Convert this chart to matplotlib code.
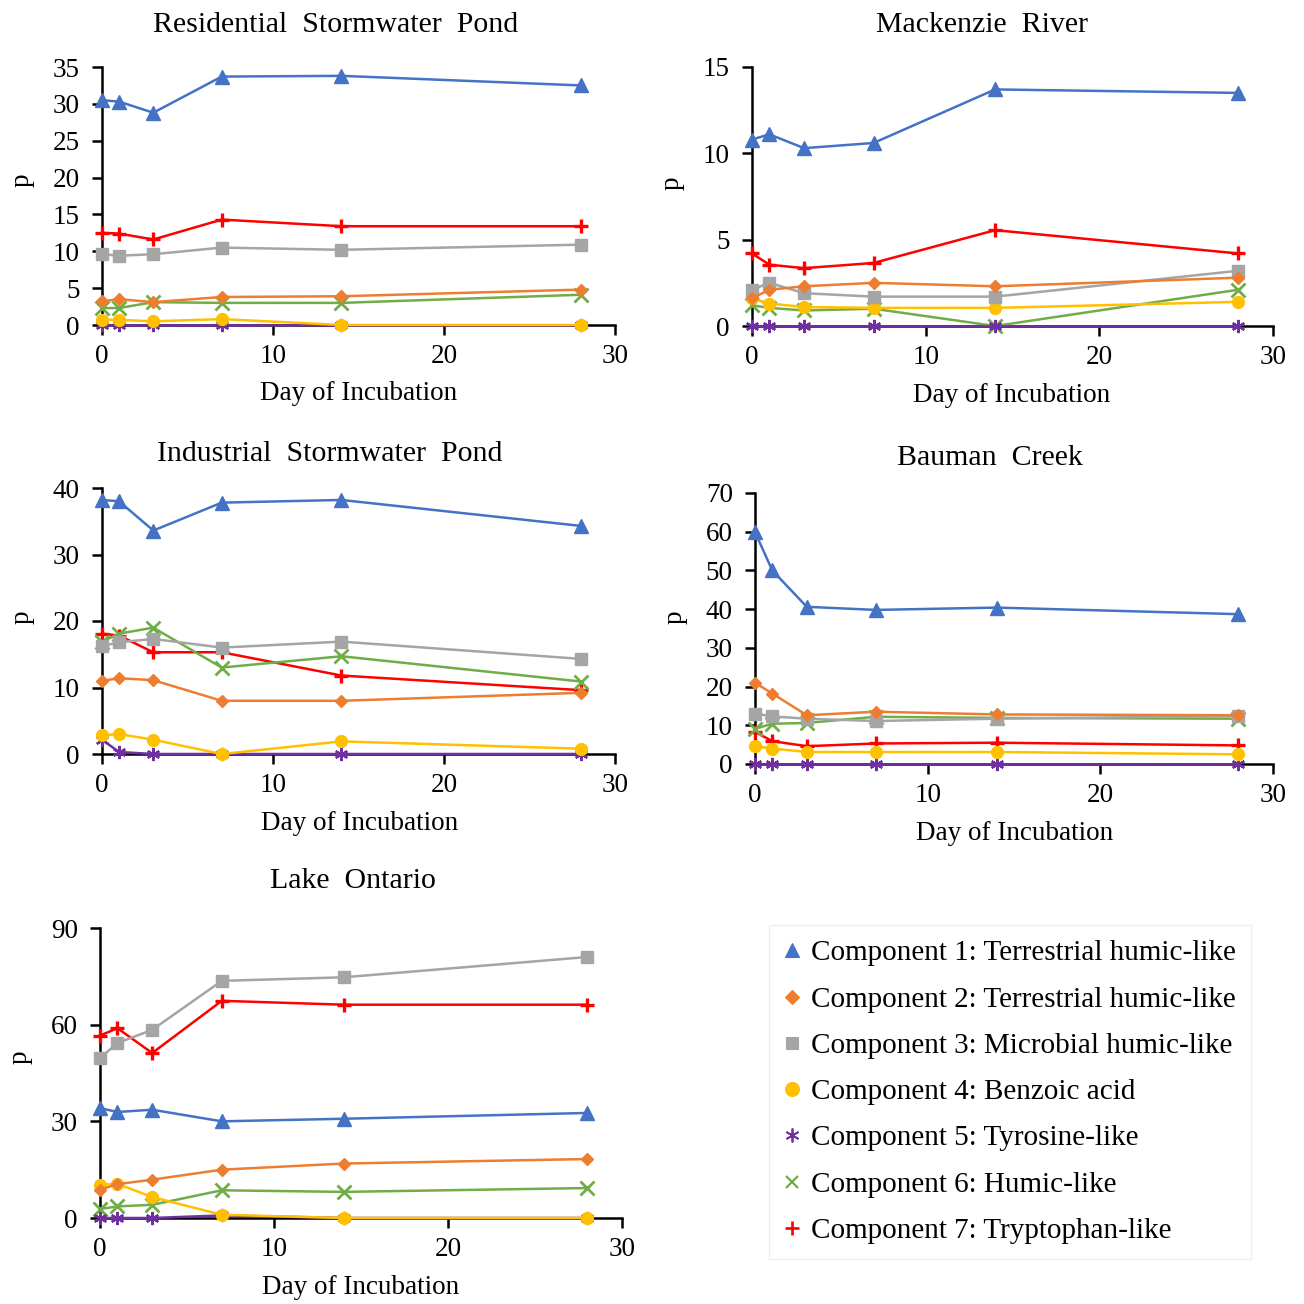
import matplotlib
matplotlib.use("Agg")
import matplotlib.pyplot as plt
from matplotlib.lines import Line2D

plt.rcParams['font.family'] = ['Liberation Serif', 'DejaVu Serif']

days = [0, 1, 3, 7, 14, 28]

component_labels = [
    "Component 1: Terrestrial humic-like",
    "Component 2: Terrestrial humic-like",
    "Component 3: Microbial humic-like",
    "Component 4: Benzoic acid",
    "Component 5: Tyrosine-like",
    "Component 6: Humic-like",
    "Component 7: Tryptophan-like",
]

# Residential Stormwater Pond
res_c1 = [30.5, 30.3, 28.8, 33.7, 33.8, 32.5]
res_c2 = [3.2, 3.5, 3.1, 3.8, 3.9, 4.8]
res_c3 = [9.6, 9.4, 9.6, 10.5, 10.2, 10.9]
res_c4 = [0.7, 0.7, 0.5, 0.8, 0.0, 0.0]
res_c5 = [0.0, 0.0, 0.0, 0.0, 0.0, 0.0]
res_c6 = [2.3, 2.3, 3.1, 3.0, 3.0, 4.1]
res_c7 = [12.5, 12.4, 11.6, 14.3, 13.4, 13.4]

# Mackenzie River
mac_c1 = [10.8, 11.1, 10.3, 10.6, 13.7, 13.5]
mac_c2 = [1.6, 2.1, 2.3, 2.5, 2.3, 2.8]
mac_c3 = [2.1, 2.5, 1.9, 1.7, 1.7, 3.2]
mac_c4 = [1.6, 1.3, 1.1, 1.05, 1.05, 1.4]
mac_c5 = [0.0, 0.0, 0.0, 0.0, 0.0, 0.0]
mac_c6 = [1.2, 1.05, 0.9, 1.0, 0.0, 2.1]
mac_c7 = [4.2, 3.55, 3.35, 3.65, 5.55, 4.2]

# Industrial Stormwater Pond
ind_c1 = [38.2, 38.0, 33.6, 37.8, 38.2, 34.3]
ind_c2 = [11.0, 11.4, 11.1, 8.0, 8.0, 9.2]
ind_c3 = [16.2, 16.8, 17.3, 16.0, 16.9, 14.3]
ind_c4 = [2.8, 3.0, 2.15, 0.0, 1.9, 0.8]
ind_c5 = [2.15, 0.3, 0.0, 0.0, 0.0, 0.0]
ind_c6 = [16.9, 18.1, 19.0, 13.0, 14.7, 10.9]
ind_c7 = [18.1, 17.8, 15.3, 15.3, 11.8, 9.6]

# Bauman Creek
bau_c1 = [59.9, 50.0, 40.6, 39.8, 40.4, 38.7]
bau_c2 = [21.0, 18.2, 12.6, 13.5, 12.8, 12.6]
bau_c3 = [13.0, 12.3, 11.7, 11.1, 11.7, 12.4]
bau_c4 = [4.6, 4.0, 3.1, 3.1, 3.1, 2.5]
bau_c5 = [0.0, 0.0, 0.0, 0.0, 0.0, 0.0]
bau_c6 = [9.1, 10.4, 10.6, 12.2, 11.9, 11.7]
bau_c7 = [8.3, 5.9, 4.6, 5.3, 5.5, 4.8]

# Lake Ontario
lak_c1 = [34.1, 32.9, 33.6, 30.0, 30.8, 32.6]
lak_c2 = [8.8, 10.5, 11.9, 15.0, 16.9, 18.3]
lak_c3 = [49.6, 54.3, 58.4, 73.6, 74.7, 81.0]
lak_c4 = [10.3, 10.6, 6.5, 1.0, 0.0, 0.0]
lak_c5 = [0.0, 0.0, 0.0, 0.8, 0.0, 0.0]
lak_c6 = [2.8, 3.6, 4.1, 8.6, 8.1, 9.3]
lak_c7 = [56.6, 58.9, 51.2, 67.4, 66.2, 66.2]

titles = ["Residential  Stormwater  Pond", "Mackenzie  River",
          "Industrial  Stormwater  Pond", "Bauman  Creek", "Lake  Ontario"]
yticks_list = [[0, 5, 10, 15, 20, 25, 30, 35], [0, 5, 10, 15],
               [0, 10, 20, 30, 40], [0, 10, 20, 30, 40, 50, 60, 70],
               [0, 30, 60, 90]]
xticks = [0, 10, 20, 30]
xlabel_text = "Day of Incubation"
ylabel_text = "p"

panels = [
    [res_c1, res_c2, res_c3, res_c4, res_c5, res_c6, res_c7],
    [mac_c1, mac_c2, mac_c3, mac_c4, mac_c5, mac_c6, mac_c7],
    [ind_c1, ind_c2, ind_c3, ind_c4, ind_c5, ind_c6, ind_c7],
    [bau_c1, bau_c2, bau_c3, bau_c4, bau_c5, bau_c6, bau_c7],
    [lak_c1, lak_c2, lak_c3, lak_c4, lak_c5, lak_c6, lak_c7],
]

colors = ["#4472C4", "#ED7D31", "#A5A5A5", "#FFC000", "#7030A0", "#70AD47", "#FF0000"]
markers = ["^", "D", "s", "o", (6, 2, 0), "x", "+"]
msizes = [9.5, 6.5, 8.5, 8.5, 9.5, 9.5, 10.5]
mews = [1, 1, 1, 1, 1.6, 2.0, 2.4]

W = 1304.0
# axes rectangles in pixels: left, right, top (max y), bottom (zero)
rects = [
    (102, 615, 67, 325),
    (752, 1273, 67, 326),
    (102, 615, 488, 754),
    (755, 1273, 493, 764),
    (100, 622, 928, 1218),
]
# title left x and baseline y (pixels)
title_pos = [(153, 32), (876, 32), (157, 461), (897, 465), (270, 888)]
xlabel_pos = [(359, 393), (1012, 396), (360, 823), (1015, 833), (361, 1287)]
ylabel_pos = [(22, 180), (672, 183), (22, 617), (675, 617), (20, 1057)]

fig = plt.figure(figsize=(13.04, 13.04), dpi=100)

for i, (data, rect) in enumerate(zip(panels, rects)):
    l, r, t, b = rect
    ax = fig.add_axes([l / W, 1 - b / W, (r - l) / W, (b - t) / W])
    for j, series in enumerate(data):
        ax.plot(days, series, color=colors[j], lw=1.8, marker=markers[j],
                markersize=msizes[j], markerfacecolor=colors[j],
                markeredgecolor=colors[j], markeredgewidth=mews[j],
                clip_on=False, zorder=3 + (6 - j) * 0.01)
    yt = yticks_list[i]
    ax.set_xlim(0, 30)
    ax.set_ylim(0, yt[-1])
    ax.set_xticks(xticks)
    ax.set_yticks(yt)
    for s in ["top", "right"]:
        ax.spines[s].set_visible(False)
    for s in ["left", "bottom"]:
        ax.spines[s].set_linewidth(1.8)
        ax.spines[s].set_color("black")
    ax.tick_params(direction="out", length=7, width=1.8, labelsize=19.5)
    ax.tick_params(axis="x", pad=7)
    ax.tick_params(axis="y", pad=9)
    tx, ty = title_pos[i]
    fig.text(tx / W, 1 - ty / W, titles[i], fontsize=21.5, ha="left", va="baseline")
    xx, xy = xlabel_pos[i]
    fig.text(xx / W, 1 - xy / W, xlabel_text, fontsize=19.5, ha="center", va="center")
    yx, yy = ylabel_pos[i]
    fig.text(yx / W, 1 - yy / W, ylabel_text, fontsize=19.5, ha="center", va="center",
             rotation=90)

handles = [Line2D([], [], linestyle="none", marker=markers[j], color=colors[j],
                  markersize=[10, 7, 9, 10, 10, 9, 10][j], markeredgewidth=mews[j] * 0.8)
           for j in range(7)]
leg = fig.legend(handles, component_labels, loc="center",
                 bbox_to_anchor=(1010 / W, 1 - 1092 / W), fontsize=21,
                 frameon=True, fancybox=False, edgecolor="#EBEBEB",
                 handlelength=0.6, handletextpad=0.35, labelspacing=0.68,
                 borderpad=0.5)
leg.get_frame().set_linewidth(1.0)

fig.savefig("out.png", dpi=100)
